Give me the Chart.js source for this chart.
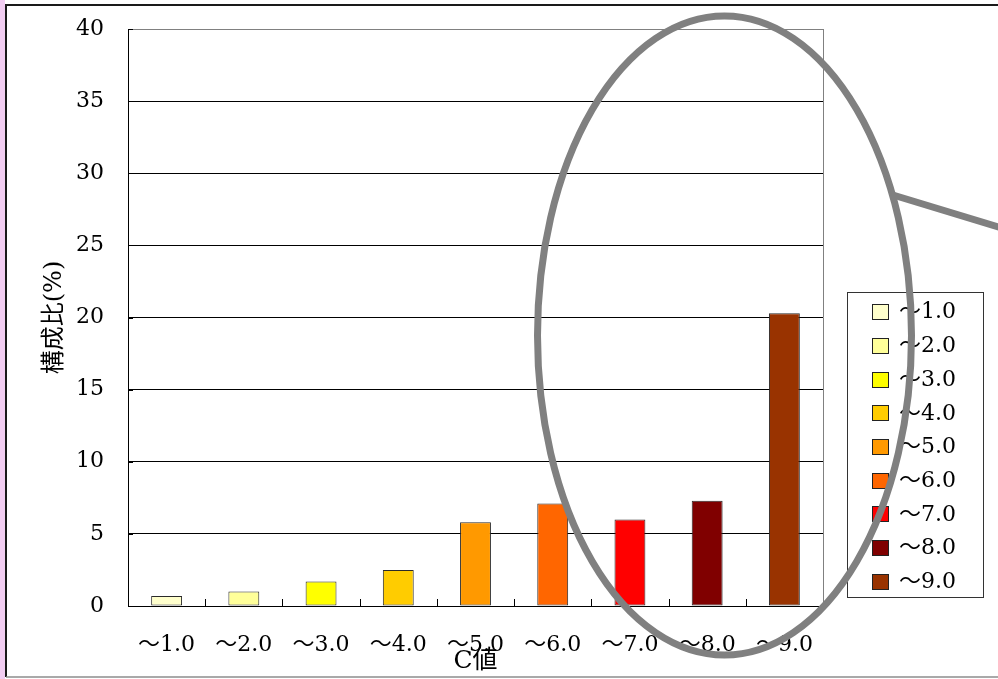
<!DOCTYPE html>
<html>
<head>
<meta charset="utf-8">
<script src="https://cdn.jsdelivr.net/npm/chart.js@4/dist/chart.umd.min.js"></script>
<style>
  html, body { margin: 0; padding: 0; background: #fff; overflow: hidden; }
  #wrap { position: relative; width: 998px; height: 679px; }
</style>
</head>
<body>
<div id="wrap"><canvas id="c" width="998" height="679"></canvas></div>
<script>
// C値 classes and their share (%) of the total
const categories = ['～1.0', '～2.0', '～3.0', '～4.0', '～5.0', '～6.0', '～7.0', '～8.0', '～9.0'];
const shares = [0.7, 1.0, 1.7, 2.5, 5.8, 7.1, 6.0, 7.3, 20.3];
const barColors = ['#FFFFCC', '#FFFF99', '#FFFF00', '#FFCC00', '#FF9900', '#FF6600', '#FF0000', '#800000', '#993300'];
const yTickValues = [0, 5, 10, 15, 20, 25, 30, 35, 40];
const yTitle = '構成比(%)';
const xTitle = 'C値';

const FAMILY = "'DejaVu Serif', 'Noto Sans CJK JP', serif";

// page frame behind the chart
const framePlugin = {
  id: 'frame',
  beforeDraw(chart) {
    const ctx = chart.ctx;
    ctx.save();
    ctx.fillStyle = '#fff';
    ctx.fillRect(0, 0, chart.width, chart.height);
    ctx.fillStyle = '#f2cdf2';
    ctx.fillRect(0, 0, 5, chart.height);
    ctx.strokeStyle = '#1a1a1a';
    ctx.lineWidth = 2;
    ctx.beginPath();
    ctx.moveTo(chart.width + 5, 5);
    ctx.lineTo(6, 5);
    ctx.lineTo(6, 677);
    ctx.stroke();
    ctx.strokeStyle = '#8c8c8c';
    ctx.lineWidth = 1.5;
    ctx.beginPath();
    ctx.moveTo(6, 677);
    ctx.lineTo(chart.width + 5, 677);
    ctx.stroke();
    ctx.restore();
  }
};

// inside tick marks, plot-area border on the right
const axisMarksPlugin = {
  id: 'axisMarks',
  afterDatasetsDraw(chart) {
    const ctx = chart.ctx;
    const a = chart.chartArea;
    const xs = chart.scales.x, ys = chart.scales.y;
    ctx.save();
    ctx.strokeStyle = '#808080';
    ctx.lineWidth = 1;
    ctx.beginPath();
    ctx.moveTo(Math.round(a.right) + 0.5, a.top);
    ctx.lineTo(Math.round(a.right) + 0.5, a.bottom);
    ctx.stroke();
    ctx.strokeStyle = '#000';
    ctx.beginPath();
    for (let i = 1; i < categories.length; i++) {
      const x = Math.round((xs.getPixelForValue(i - 1) + xs.getPixelForValue(i)) / 2) + 0.5;
      ctx.moveTo(x, a.bottom);
      ctx.lineTo(x, a.bottom - 7);
    }
    yTickValues.forEach(v => {
      const y = Math.round(ys.getPixelForValue(v)) + 0.5;
      ctx.moveTo(a.left, y);
      ctx.lineTo(a.left + 5, y);
    });
    ctx.stroke();
    ctx.restore();
  }
};

// boxed legend listing each class with its bar colour
const legendBoxPlugin = {
  id: 'legendBox',
  afterDraw(chart) {
    const ctx = chart.ctx;
    ctx.save();
    ctx.fillStyle = '#fff';
    ctx.fillRect(847.5, 292.5, 136, 305);
    ctx.strokeStyle = '#333';
    ctx.lineWidth = 1;
    ctx.strokeRect(847.5, 292.5, 136, 305);
    ctx.font = '22px ' + FAMILY;
    ctx.textBaseline = 'middle';
    ctx.textAlign = 'left';
    categories.forEach((label, i) => {
      const cy = 311.7 + i * 33.7;
      ctx.fillStyle = barColors[i];
      ctx.fillRect(872.5, Math.round(cy - 7.5) + 0.5, 16, 15);
      ctx.strokeStyle = '#222';
      ctx.strokeRect(872.5, Math.round(cy - 7.5) + 0.5, 16, 15);
      ctx.fillStyle = '#000';
      ctx.fillText(label, 899, cy + 1);
    });
    ctx.restore();
  }
};

// grey ellipse callout drawn over the chart
const calloutPlugin = {
  id: 'callout',
  afterDraw(chart) {
    const ctx = chart.ctx;
    ctx.save();
    ctx.strokeStyle = '#808080';
    ctx.lineWidth = 7;
    ctx.beginPath();
    ctx.ellipse(724.5, 335.5, 187, 319.5, 0, 0, Math.PI * 2);
    ctx.stroke();
    ctx.beginPath();
    ctx.moveTo(893, 195);
    ctx.lineTo(1005, 229);
    ctx.stroke();
    ctx.restore();
  }
};

new Chart(document.getElementById('c'), {
  type: 'bar',
  data: {
    labels: categories,
    datasets: [{
      data: shares,
      backgroundColor: barColors,
      borderColor: '#2a2a2a',
      borderWidth: 1,
      borderSkipped: false,
      barPercentage: 0.4,
      categoryPercentage: 1.0
    }]
  },
  options: {
    responsive: false,
    devicePixelRatio: 1,
    animation: false,
    layout: { padding: { top: 29, right: 175, bottom: 0, left: 0 } },
    plugins: {
      legend: { display: false },
      tooltip: { enabled: false }
    },
    scales: {
      x: {
        type: 'category',
        offset: true,
        grid: { display: false },
        border: { display: true, color: '#000', width: 1 },
        ticks: {
          color: '#000',
          font: { family: FAMILY, size: 22 },
          padding: 18,
          maxRotation: 0,
          autoSkip: false
        },
        title: {
          display: true,
          text: xTitle,
          color: '#000',
          font: { family: FAMILY, size: 25 },
          padding: { top: 0, bottom: 3 }
        },
        afterFit(scale) { scale.height = 73; }
      },
      y: {
        min: 0,
        max: 40,
        afterBuildTicks(scale) { scale.ticks = yTickValues.map(v => ({ value: v })); },
        grid: {
          drawTicks: false,
          lineWidth: 1,
          color: c => (c.tick && c.tick.value === 40 ? '#808080' : '#000')
        },
        border: { display: true, color: '#000', width: 1 },
        ticks: {
          color: '#000',
          font: { family: FAMILY, size: 22 },
          padding: 24
        },
        title: {
          display: true,
          text: yTitle,
          color: '#000',
          font: { family: FAMILY, size: 24 },
          padding: { top: 40, bottom: 0 }
        },
        afterFit(scale) {
          scale.width = 128;
          scale.paddingTop = 0;
          scale.paddingBottom = 0;
        }
      }
    }
  },
  plugins: [framePlugin, axisMarksPlugin, legendBoxPlugin, calloutPlugin]
});
</script>
</body>
</html>
